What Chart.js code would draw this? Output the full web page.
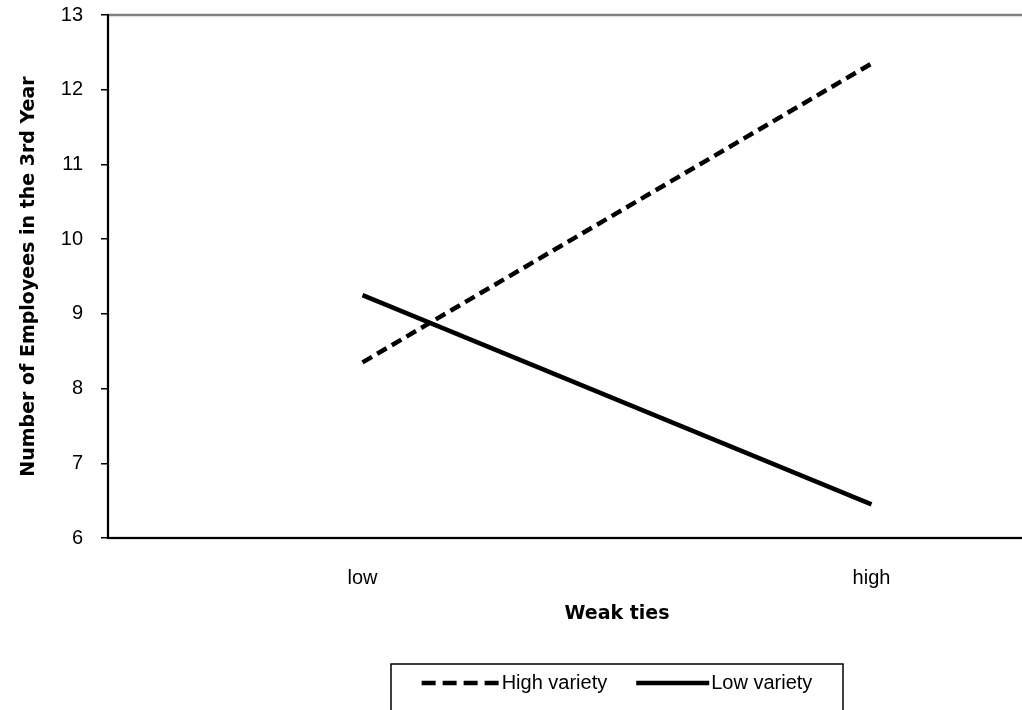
<!DOCTYPE html>
<html>
<head>
<meta charset="utf-8">
<script src="https://cdn.jsdelivr.net/npm/chart.js@4/dist/chart.umd.min.js"></script>
<style>
    html, body { margin: 0; padding: 0; background: #fff; overflow: hidden; }
    #wrap { position: absolute; left: 0; top: 0; }
</style>
</head>
<body>
<div id="wrap"><canvas id="chart" width="1130" height="740"></canvas></div>
<script>
const categories = ['low', 'high'];
const highVariety = [8.35, 12.35];
const lowVariety = [9.25, 6.45];
const yMin = 6;
const yMax = 13;
const xTitle = 'Weak ties';
const yTitle = 'Number of Employees in the 3rd Year';

const tickFont = { family: '"Liberation Sans", Arial, sans-serif', size: 20 };
const titleFont = { family: '"DejaVu Sans", sans-serif', size: 19, weight: 'bold' };

// gray plot-area border, drawn before the axes so they sit on top
const plotBorder = {
    id: 'plotBorder',
    beforeDraw(chart) {
        const { ctx, chartArea: a } = chart;
        ctx.save();
        ctx.strokeStyle = '#808080';
        ctx.lineWidth = 2.5;
        ctx.strokeRect(a.left, a.top, a.right - a.left, a.bottom - a.top);
        ctx.restore();
    }
};

// boxed legend under the x axis title, like the spreadsheet one
const boxLegend = {
    id: 'boxLegend',
    afterDraw(chart) {
        const { ctx, chartArea: a } = chart;
        const xScale = chart.scales.x;
        const cx = (a.left + a.right) / 2;
        const top = xScale.bottom + 26;
        const sampleW = [78, 73];
        const dashes = [[14, 7], []];

        ctx.save();
        ctx.font = '20px "Liberation Sans", Arial, sans-serif';
        const sets = chart.data.datasets;
        const widths = sets.map(d => ctx.measureText(d.label).width);
        const total = sampleW[0] + 2 + widths[0] + 29 + sampleW[1] + 2 + widths[1];
        const boxW = 452;

        ctx.strokeStyle = '#000';
        ctx.lineWidth = 1.5;
        ctx.strokeRect(cx - boxW / 2, top, boxW, 80);

        let x = cx - total / 2;
        const y = top + 19;
        sets.forEach((d, i) => {
            ctx.beginPath();
            ctx.setLineDash(dashes[i]);
            ctx.lineWidth = d.borderWidth;
            ctx.strokeStyle = d.borderColor;
            ctx.moveTo(x, y);
            ctx.lineTo(x + sampleW[i], y);
            ctx.stroke();
            x += sampleW[i] + 2;
            ctx.setLineDash([]);
            ctx.fillStyle = '#000';
            ctx.textBaseline = 'middle';
            ctx.textAlign = 'left';
            ctx.fillText(d.label, x, y);
            x += widths[i] + 29;
        });
        ctx.restore();
    }
};

const ctx = document.getElementById('chart').getContext('2d');
new Chart(ctx, {
    type: 'line',
    data: {
        labels: categories,
        datasets: [
            {
                label: 'High variety',
                data: highVariety,
                borderColor: '#000',
                borderWidth: 4.5,
                borderDash: [11, 6],
                pointRadius: 0,
                fill: false,
                tension: 0
            },
            {
                label: 'Low variety',
                data: lowVariety,
                borderColor: '#000',
                borderWidth: 4.5,
                pointRadius: 0,
                fill: false,
                tension: 0
            }
        ]
    },
    options: {
        responsive: false,
        animation: false,
        devicePixelRatio: 1,
        layout: { padding: { top: 15, right: 4, bottom: 102, left: 0 } },
        plugins: {
            legend: { display: false },
            tooltip: { enabled: false }
        },
        scales: {
            x: {
                type: 'category',
                offset: true,
                grid: { display: false, drawTicks: false },
                border: { display: true, color: '#000', width: 2 },
                ticks: { color: '#000', font: tickFont, padding: 28 },
                title: {
                    display: true,
                    text: xTitle,
                    color: '#000',
                    font: titleFont,
                    padding: { top: 0, bottom: 13 }
                },
                afterFit(scale) {
                    scale.height = 100;
                    scale.paddingLeft = 0;
                    scale.paddingRight = 0;
                }
            },
            y: {
                min: yMin,
                max: yMax,
                grid: {
                    drawOnChartArea: false,
                    drawTicks: true,
                    tickLength: 7,
                    color: '#000',
                    lineWidth: 1.5
                },
                border: { display: true, color: '#000', width: 2 },
                ticks: { stepSize: 1, color: '#000', font: tickFont, padding: 18 },
                title: {
                    display: true,
                    text: yTitle,
                    color: '#000',
                    font: titleFont,
                    padding: { top: 18, bottom: 0 }
                },
                afterFit(scale) {
                    scale.width = 108;
                    scale.paddingTop = 0;
                    scale.paddingBottom = 0;
                }
            }
        }
    },
    plugins: [plotBorder, boxLegend]
});
</script>
</body>
</html>
